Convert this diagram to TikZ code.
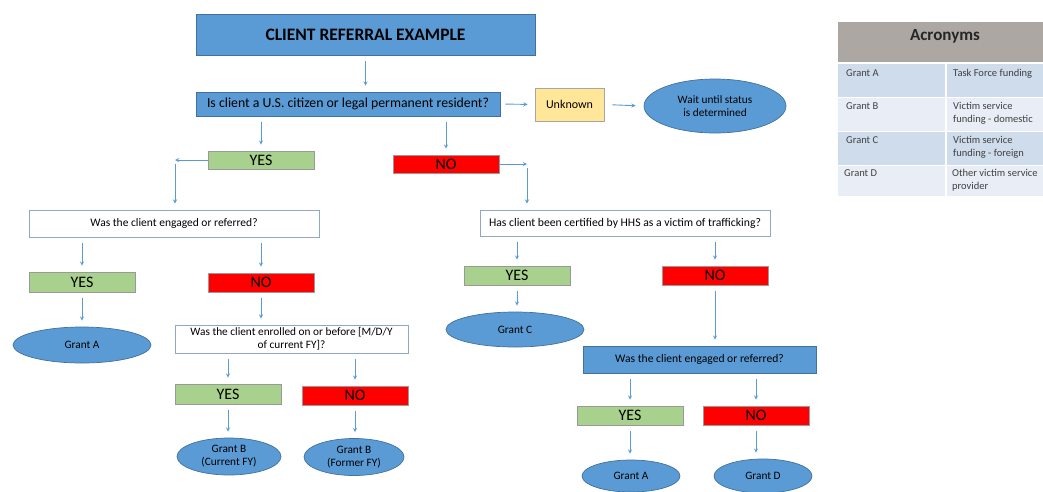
\documentclass[tikz,border=0pt]{standalone}
\usepackage{fontspec}
\setmainfont{Carlito}
\usepackage{tikz}
\usetikzlibrary{shapes.geometric}

\definecolor{boxblue}{HTML}{5B9BD5}
\definecolor{blueedge}{HTML}{41719C}
\definecolor{lineblue}{HTML}{5B9BD5}
\definecolor{yesgreen}{HTML}{A9D18E}
\definecolor{nored}{HTML}{FF0000}
\definecolor{unkyellow}{HTML}{FFE699}
\definecolor{askedge}{HTML}{8EA9C8}
\definecolor{headgray}{HTML}{ADA7A4}
\definecolor{rowdark}{HTML}{CFDCEC}
\definecolor{rowlight}{HTML}{E9EEF6}

\tikzset{
  conn/.style={->, draw=lineblue, line width=0.9pt, shorten <=6pt, shorten >=6pt},
  bluebox/.style={draw=blueedge, fill=boxblue, line width=0.7pt, inner sep=0pt},
  askbox/.style={draw=askedge, fill=white, line width=0.9pt, inner sep=0pt, align=center},
  yesbox/.style={draw=gray!80, fill=yesgreen, line width=0.7pt, inner sep=0pt, minimum width=106pt, font=\fontsize{16}{16}\selectfont},
  nobox/.style={draw=gray!80, fill=nored, line width=0.7pt, inner sep=0pt, minimum width=106pt, font=\fontsize{16}{16}\selectfont},
  grant/.style={ellipse, draw=blueedge, fill=boxblue, line width=0.7pt, inner sep=0pt, align=center, font=\fontsize{11.3}{13}\selectfont},
  acro/.style={anchor=north west, inner sep=0pt, align=left, font=\fontsize{10.5}{13}\selectfont, text=black!75}
}

\begin{document}
\begin{tikzpicture}[x=1pt,y=-1pt,>=stealth]
  \useasboundingbox (0,0) rectangle (1043,491);

  % titolo e prima domanda
  \node[bluebox, minimum width=339pt, minimum height=41pt, font=\fontsize{17.5}{17.5}\selectfont\bfseries] (title) at (365.5,34.5) {CLIENT REFERRAL EXAMPLE};
  \node[bluebox, minimum width=304pt, minimum height=24pt, font=\fontsize{13.8}{14}\selectfont] (q1) at (348,104) {Is client a U.S. citizen or legal permanent resident?};
  \node[draw=gray!70, fill=unkyellow, line width=0.7pt, minimum width=69pt, minimum height=33pt, inner sep=0pt, font=\fontsize{12}{12}\selectfont] (unk) at (569.5,104.5) {Unknown};
  \node[grant, minimum width=142pt, minimum height=54pt] (wait) at (715,106) {Wait until status\\is determined};

  \draw[conn] (title) -- (q1.north -| title);
  \draw[conn, shorten <=5pt, shorten >=7pt] (q1.east) -- (unk.west);
  \draw[conn, shorten <=8pt, shorten >=8pt] (unk.east) -- (wait.west);

  % ramo YES
  \node[yesbox, minimum height=18pt] (yes1) at (261,160) {YES};
  \coordinate (c1) at (175,160);
  \draw[conn] (q1.south -| yes1) -- (yes1);
  \draw[conn, shorten <=0pt, shorten >=0pt] (yes1.west) -- (c1);

  \node[askbox, minimum width=290pt, minimum height=27pt, font=\fontsize{11.5}{13}\selectfont] (q2) at (174,223.5) {Was the client engaged or referred?};
  \draw[conn, shorten <=4pt] (c1) -- (q2.north -| c1);

  \node[yesbox, minimum height=20pt] (yes2) at (82,282) {YES};
  \node[nobox, minimum height=19pt] (no2) at (261,282.5) {NO};
  \draw[conn] (q2.south -| yes2) -- (yes2);
  \draw[conn] (q2.south -| no2) -- (no2);

  \node[grant, minimum width=138pt, minimum height=36pt] (grantA1) at (82,345) {Grant A};
  \draw[conn] (yes2) -- (grantA1);

  \node[askbox, minimum width=233pt, minimum height=28pt, font=\fontsize{11.3}{13}\selectfont] (q3) at (291.5,339) {Was the client enrolled on or before [M/D/Y\\of current FY]?};
  \draw[conn] (no2) -- (q3.north -| no2);

  \node[yesbox, minimum height=20pt] (yes3) at (228,394) {YES};
  \node[nobox, minimum height=19pt] (no3) at (355,395.5) {NO};
  \draw[conn] (q3.south -| yes3) -- (yes3);
  \draw[conn] (q3.south -| no3) -- (no3);

  \node[grant, minimum width=104pt, minimum height=37pt] (grantBc) at (229,456.5) {Grant B\\(Current FY)};
  \node[grant, minimum width=100pt, minimum height=37pt] (grantBf) at (354,457) {Grant B\\(Former FY)};
  \draw[conn] (yes3) -- (grantBc.north -| yes3);
  \draw[conn] (no3) -- (grantBf.north -| no3);

  % ramo NO
  \node[nobox, minimum height=18pt] (no1) at (446,164) {NO};
  \coordinate (c2) at (527,164);
  \draw[conn] (q1.south -| no1) -- (no1);
  \draw[conn, shorten <=0pt, shorten >=0pt] (no1.east) -- (c2);

  \node[askbox, minimum width=290pt, minimum height=26pt, font=\fontsize{11.7}{13}\selectfont] (q4) at (625,223) {Has client been certified by HHS as a victim of trafficking?};
  \draw[conn, shorten <=4pt] (c2) -- (q4.north -| c2);

  \node[yesbox, minimum height=19pt] (yes4) at (517,275.5) {YES};
  \node[nobox, minimum height=19pt] (no4) at (715,275.5) {NO};
  \draw[conn] (q4.south -| yes4) -- (yes4);
  \draw[conn] (q4.south -| no4) -- (no4);

  \node[grant, minimum width=138pt, minimum height=35pt] (grantC) at (515,329.5) {Grant C};
  \draw[conn] (yes4) -- (grantC.north -| yes4);

  \node[bluebox, minimum width=233pt, minimum height=27pt, font=\fontsize{11.6}{13}\selectfont] (q5) at (699.5,359.5) {Was the client engaged or referred?};
  \draw[conn] (no4) -- (q5.north -| no4);

  \node[yesbox, minimum height=19pt] (yes5) at (630,415.5) {YES};
  \node[nobox, minimum height=19pt] (no5) at (756,415.5) {NO};
  \draw[conn] (q5.south -| yes5) -- (yes5);
  \draw[conn] (q5.south -| no5) -- (no5);

  \node[grant, minimum width=98pt, minimum height=32pt] (grantA2) at (631,476) {Grant A};
  \node[grant, minimum width=98pt, minimum height=34pt] (grantD) at (763,476) {Grant D};
  \draw[conn] (yes5) -- (grantA2.north -| yes5);
  \draw[conn] (no5) -- (grantD.north -| no5);

  % tabella acronimi
  \fill[headgray] (838,22) rectangle (1043,62);
  \fill[rowdark] (838,64) rectangle (1043,97);
  \fill[rowlight] (838,98) rectangle (1043,131);
  \fill[rowdark] (838,132) rectangle (1043,165);
  \fill[rowlight] (838,166) rectangle (1043,196);
  \draw[white, line width=1.2pt] (946,64) -- (946,196);
  \node[font=\fontsize{17}{17}\selectfont\bfseries, text=black!85] (acrohead) at (945,36) {Acronyms};

  \node[acro] (ga) at (846,69) {Grant A};
  \node[acro] (gb) at (846,102) {Grant B};
  \node[acro] (gc) at (846,136) {Grant C};
  \node[acro] (gd) at (844,169) {Grant D};
  \node[acro] (fa) at (953,69) {Task Force funding};
  \node[acro] (fb) at (953,102) {Victim service\\funding - domestic};
  \node[acro] (fc) at (953,136) {Victim service\\funding - foreign};
  \node[acro] (fd) at (952,169) {Other victim service\\provider};
\end{tikzpicture}
\end{document}
